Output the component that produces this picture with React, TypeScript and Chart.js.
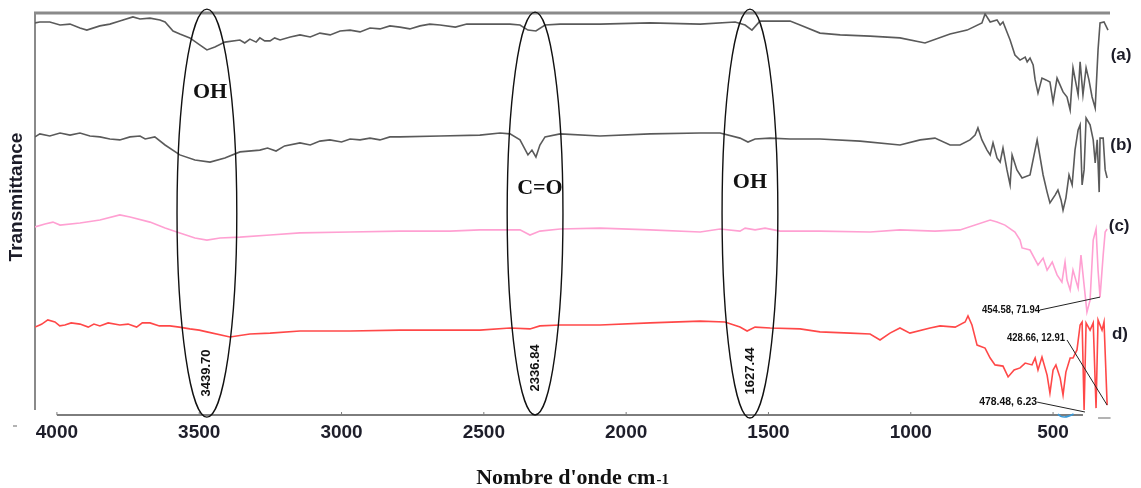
import { useEffect, useRef } from "react";
import { Chart, registerables } from "chart.js";

Chart.register(...registerables);

// ---- axis ----
const xTicks = [4000, 3500, 3000, 2500, 2000, 1500, 1000, 500];
const xMin = 300;
const xMax = 4077;
const yMin = 0;
const yMax = 134;
const axisEnd = 395;

// ---- series (wavenumber cm-1, transmittance, offset stacked) ----
const wnA = [4077,4060,4025,3989,3954,3919,3895,3849,3814,3779,3733,3708,3673,3638,3620,3592,3568,3533,3497,3473,3445,3410,3357,3340,3322,3300,3287,3270,3251,3235,3216,3180,3146,3110,3076,3040,3005,2970,2935,2900,2865,2830,2795,2760,2724,2690,2654,2600,2560,2514,2408,2373,2345,2317,2285,2232,2092,1916,1740,1617,1582,1558,1530,1424,1389,1319,1248,1143,1038,950,862,802,750,739,721,697,686,676,651,634,616,598,591,581,570,563,553,539,525,511,500,486,465,451,440,430,412,405,395,384,374,363,352,342,335,321,307];
const tA = [130.7,131.0,131.0,130.0,130.3,129.0,128.3,129.7,130.3,131.3,132.7,132.0,132.3,131.7,131.0,128.0,127.0,125.7,123.3,121.7,122.7,124.3,125.0,124.0,125.3,124.3,125.7,124.7,124.7,125.7,125.0,126.0,126.7,126.0,127.3,126.7,128.0,128.3,127.7,129.0,128.7,129.7,129.3,128.7,129.7,130.3,130.0,129.3,130.3,130.3,130.3,130.0,128.3,128.0,130.0,130.3,130.3,130.7,130.3,131.0,130.0,128.3,131.3,131.3,130.0,127.3,126.7,126.3,125.7,124.0,127.0,128.3,130.7,133.7,131.0,131.7,130.0,131.0,125.0,120.0,118.3,119.3,117.7,119.0,116.7,111.7,107.3,112.3,111.7,111.0,104.3,112.3,107.7,106.0,101.7,115.7,106.7,117.7,106.7,115.7,111.7,106.0,102.3,121.7,130.7,131.0,128.3];

const wnB = [4077,4060,4025,3989,3954,3919,3884,3849,3814,3779,3743,3708,3690,3656,3620,3568,3515,3462,3410,3357,3287,3260,3230,3200,3146,3110,3076,3041,3000,2970,2935,2900,2865,2830,2795,2654,2514,2443,2408,2373,2345,2331,2317,2303,2285,2232,2092,1916,1740,1670,1600,1572,1547,1494,1424,1319,1178,1038,967,915,862,827,792,774,764,750,732,721,711,697,686,676,662,651,644,627,609,581,556,535,521,511,493,483,472,465,455,444,433,423,412,405,398,391,384,370,359,352,345,338,335,324,317,310];
const tB = [92.7,93.7,93.0,94.0,93.3,94.0,93.0,92.7,92.0,91.7,92.7,93.0,92.0,92.7,90.0,86.7,85.0,84.3,85.7,87.7,88.3,89.0,88.0,89.7,90.7,90.0,91.3,91.7,91.0,92.0,91.7,92.3,91.7,92.7,92.7,93.0,93.3,94.0,93.7,91.7,86.7,88.3,86.0,90.0,92.7,93.7,93.0,93.7,94.0,94.0,92.3,91.0,92.0,92.3,92.0,92.0,91.3,90.0,91.7,92.3,90.0,90.0,91.7,93.3,95.7,91.7,88.3,86.7,90.7,85.7,84.3,89.0,81.7,76.7,86.7,81.7,79.0,80.0,91.7,80.0,74.3,70.7,73.3,75.0,71.7,68.3,72.3,80.0,76.7,88.3,95.0,96.7,76.7,81.7,99.0,96.7,91.7,84.0,91.7,74.3,92.3,92.3,81.7,79.0];

const wnC = [4077,4042,4014,3989,3919,3849,3779,3743,3673,3620,3568,3515,3473,3427,3357,3251,3146,2970,2795,2619,2514,2373,2338,2303,2232,2092,1916,1740,1670,1600,1582,1547,1512,1459,1319,1143,1038,915,827,721,697,669,634,616,609,581,553,535,521,503,486,469,458,451,440,430,412,402,391,381,370,359,349,342,335,324,317,310];
const tC = [62.7,63.7,64.3,63.3,64.0,65.0,66.7,66.0,64.3,62.3,60.7,59.0,58.3,59.0,59.3,60.0,60.7,61.0,61.3,61.3,61.7,61.7,60.0,61.3,62.0,62.3,61.7,61.0,62.0,61.3,62.3,61.7,62.3,61.3,61.3,61.0,61.7,61.3,61.7,65.0,64.3,63.3,61.0,58.3,55.7,55.0,50.0,52.3,48.3,51.0,46.7,44.3,51.0,45.0,41.7,48.3,42.3,53.3,43.3,34.3,38.3,58.3,62.0,48.3,39.3,53.3,61.0,62.0];

const wnD = [4077,4060,4053,4032,4007,3990,3972,3950,3919,3890,3870,3849,3820,3779,3750,3720,3700,3673,3640,3603,3570,3533,3500,3473,3392,3322,3251,3146,2970,2795,2619,2514,2408,2338,2303,2232,2092,1916,1740,1653,1600,1575,1547,1494,1389,1319,1213,1143,1108,1073,1038,1003,932,897,844,809,799,785,767,739,721,704,676,658,637,616,598,574,563,553,539,521,511,500,490,475,465,455,440,430,416,405,398,391,384,370,359,349,342,328,321,310];
const tD = [29.3,30.0,30.3,31.7,31.0,29.7,30.0,30.7,30.3,29.3,30.3,29.7,30.7,30.0,30.3,29.3,30.7,30.7,29.7,29.7,29.3,28.7,28.3,27.7,26.0,27.0,27.3,28.0,28.0,28.3,28.3,28.3,29.0,28.7,29.7,30.0,30.0,30.7,31.3,31.0,29.3,28.0,29.3,29.0,28.7,27.7,27.3,27.0,25.0,27.3,29.0,27.3,29.0,29.7,29.3,31.0,33.0,30.0,23.3,22.3,19.0,16.7,16.3,12.7,15.0,15.7,17.3,16.7,19.0,15.0,19.3,13.3,7.3,15.0,16.7,12.3,6.7,14.3,19.0,19.0,21.7,30.0,31.0,1.7,30.7,28.3,30.7,2.3,31.7,28.3,31.0,3.3];

const seriesNames = ["(a)", "(b)", "(c)", "d)"];
const seriesColors = ["#5a5a5a", "#5a5a5a", "#ffa0d2", "#ff4848"];
const seriesLabelPos = [
  [261, 120],
  [261, 90],
  [268, 63],
  [265, 27],
];

// ---- band annotations (ellipses) ----
const bandCenters = [3473, 2320, 1565];
const bandHalfWidth = [105, 98, 98];
const bandTop = [135.3, 134.3, 135.3];
const bandBottom = [-0.7, 0, -1];
const bandNames = ["OH", "C=O", "OH"];
const bandNamePos = [
  [3462, 107.7],
  [2303, 75.7],
  [1565, 77.7],
];
const bandValues = ["3439.70", "2336.84", "1627.44"];
const bandValueY = [14, 15.7, 14.7];

// ---- peak call-outs ----
const peakTexts = ["454.58, 71.94", "428.66, 12.91", "478.48, 6.23"];
const peakTextAnchor = [
  [546, 35],
  [458, 25.7],
  [556, 4.3],
];
const peakLineFrom = [
  [546, 35],
  [451, 25],
  [556, 4.3],
];
const peakLineTo = [
  [335, 39.3],
  [310, 3.3],
  [388, 1.0],
];

const SANS = "'Liberation Sans', Arial, sans-serif";
const SERIF = "'Liberation Serif', 'Times New Roman', serif";

const overlay = {
  id: "overlay",
  beforeDatasetsDraw(chart: any) {
    const { ctx, chartArea: ca, scales } = chart;
    const X = (v: number) => scales.x.getPixelForValue(v);
    ctx.save();
    ctx.strokeStyle = "#8a8a8a";
    ctx.lineWidth = 3;
    ctx.beginPath();
    ctx.moveTo(ca.left - 1, ca.top);
    ctx.lineTo(ca.right, ca.top);
    ctx.stroke();
    ctx.lineWidth = 2;
    ctx.beginPath();
    ctx.moveTo(ca.left, ca.top);
    ctx.lineTo(ca.left, ca.bottom - 5);
    ctx.stroke();
    // x axis line
    ctx.strokeStyle = "#7d7d7d";
    ctx.lineWidth = 2;
    ctx.beginPath();
    ctx.moveTo(X(xTicks[0]), ca.bottom);
    ctx.lineTo(X(axisEnd), ca.bottom);
    ctx.stroke();
    ctx.lineWidth = 1;
    for (const t of xTicks) {
      ctx.beginPath();
      ctx.moveTo(X(t), ca.bottom - 3);
      ctx.lineTo(X(t), ca.bottom);
      ctx.stroke();
    }
    // small stray dashes
    ctx.strokeStyle = "#9a9a9a";
    ctx.lineWidth = 1.5;
    ctx.beginPath();
    ctx.moveTo(ca.left - 22, ca.bottom + 11);
    ctx.lineTo(ca.left - 18, ca.bottom + 11);
    ctx.stroke();
    ctx.beginPath();
    ctx.moveTo(X(342), ca.bottom + 3);
    ctx.lineTo(X(298), ca.bottom + 3);
    ctx.stroke();
    ctx.restore();
  },
  afterDatasetsDraw(chart: any) {
    const { ctx, chartArea: ca, scales } = chart;
    const X = (v: number) => scales.x.getPixelForValue(v);
    const Y = (v: number) => scales.y.getPixelForValue(v);
    ctx.save();
    // ellipses
    ctx.strokeStyle = "#111";
    ctx.lineWidth = 1.4;
    bandCenters.forEach((c, i) => {
      const cx = X(c);
      const rx = Math.abs(X(c - bandHalfWidth[i]) - cx);
      const yt = Y(bandTop[i]);
      const yb = Y(bandBottom[i]);
      ctx.beginPath();
      ctx.ellipse(cx, (yt + yb) / 2, rx, (yb - yt) / 2, 0, 0, Math.PI * 2);
      ctx.stroke();
    });
    // band names
    ctx.fillStyle = "#111";
    ctx.textAlign = "center";
    ctx.textBaseline = "middle";
    ctx.font = `bold 22px ${SERIF}`;
    bandNames.forEach((n, i) => {
      ctx.fillText(n, X(bandNamePos[i][0]), Y(bandNamePos[i][1]));
    });
    // band values, rotated
    ctx.font = `bold 13px ${SANS}`;
    bandValues.forEach((v, i) => {
      ctx.save();
      ctx.translate(X(bandCenters[i]), Y(bandValueY[i]));
      ctx.rotate(-Math.PI / 2);
      ctx.fillText(v, 0, 0, 57);
      ctx.restore();
    });
    // series labels
    ctx.fillStyle = "#1c1c28";
    ctx.font = `bold 17px ${SANS}`;
    seriesNames.forEach((n, i) => {
      ctx.fillText(n, X(seriesLabelPos[i][0]), Y(seriesLabelPos[i][1]));
    });
    // peak call-outs
    ctx.strokeStyle = "#222";
    ctx.lineWidth = 1;
    peakTexts.forEach((t, i) => {
      ctx.beginPath();
      ctx.moveTo(X(peakLineFrom[i][0]), Y(peakLineFrom[i][1]));
      ctx.lineTo(X(peakLineTo[i][0]), Y(peakLineTo[i][1]));
      ctx.stroke();
    });
    ctx.fillStyle = "#111";
    ctx.textAlign = "right";
    ctx.font = `bold 11px ${SANS}`;
    peakTexts.forEach((t, i) => {
      ctx.fillText(t, X(peakTextAnchor[i][0]), Y(peakTextAnchor[i][1]), 58);
    });
    // small blue marker near 500
    ctx.strokeStyle = "#3a9ad8";
    ctx.lineWidth = 1.5;
    ctx.beginPath();
    ctx.moveTo(X(483), ca.bottom - 1);
    ctx.quadraticCurveTo(X(465), ca.bottom + 5, X(428), ca.bottom - 1);
    ctx.stroke();
    // y title
    ctx.fillStyle = "#1c1c28";
    ctx.textAlign = "center";
    ctx.font = `bold 19px ${SANS}`;
    ctx.save();
    ctx.translate(17, 197);
    ctx.rotate(-Math.PI / 2);
    ctx.fillText("Transmittance", 0, 0);
    ctx.restore();
    // x title
    ctx.textBaseline = "alphabetic";
    ctx.textAlign = "left";
    const main = "Nombre d'onde cm";
    const sup = "-1";
    ctx.font = `bold 22px ${SERIF}`;
    const w1 = ctx.measureText(main).width;
    ctx.font = `bold 15px ${SERIF}`;
    const w2 = ctx.measureText(sup).width;
    const x0 = 572 - (w1 + w2) / 2;
    ctx.fillStyle = "#111";
    ctx.font = `bold 22px ${SERIF}`;
    ctx.fillText(main, x0, 484);
    ctx.font = `bold 15px ${SERIF}`;
    ctx.fillText(sup, x0 + w1 + 1, 484);
    ctx.restore();
  },
};

function toPoints(xs: number[], ys: number[]) {
  return xs.map((x, i) => ({ x, y: ys[i] }));
}

export default function App() {
  const ref = useRef<HTMLCanvasElement | null>(null);
  useEffect(() => {
    document.body.style.margin = "0";
    const canvas = ref.current;
    if (!canvas) return;
    const data = [
      toPoints(wnA, tA),
      toPoints(wnB, tB),
      toPoints(wnC, tC),
      toPoints(wnD, tD),
    ];
    const chart = new Chart(canvas, {
      type: "line",
      data: {
        datasets: data.map((d, i) => ({
          label: seriesNames[i],
          data: d,
          borderColor: seriesColors[i],
          borderWidth: 1.6,
          pointRadius: 0,
          tension: 0,
          fill: false,
        })),
      },
      options: {
        responsive: false,
        animation: false,
        devicePixelRatio: 1,
        parsing: true,
        layout: { padding: { left: 35, right: 31, top: 13, bottom: 0 } },
        plugins: {
          legend: { display: false },
          tooltip: { enabled: false },
          title: { display: false },
        },
        scales: {
          x: {
            type: "linear",
            reverse: true,
            min: xMin,
            max: xMax,
            grid: { display: false, drawTicks: false },
            border: { display: false },
            afterBuildTicks: (axis: any) => {
              axis.ticks = xTicks.map((v) => ({ value: v }));
            },
            afterFit: (axis: any) => {
              axis.height = 73;
            },
            ticks: {
              autoSkip: false,
              maxRotation: 0,
              padding: 6,
              color: "#1e1e2a",
              font: { family: SANS, size: 19, weight: "bold" },
              callback: (v: any) => String(v),
            },
          },
          y: {
            type: "linear",
            display: false,
            min: yMin,
            max: yMax,
          },
        },
      },
      plugins: [overlay],
    } as any);
    return () => chart.destroy();
  }, []);
  return (
    <div style={{ width: 1141, height: 488, background: "#fff" }}>
      <canvas ref={ref} width={1141} height={488} />
    </div>
  );
}
